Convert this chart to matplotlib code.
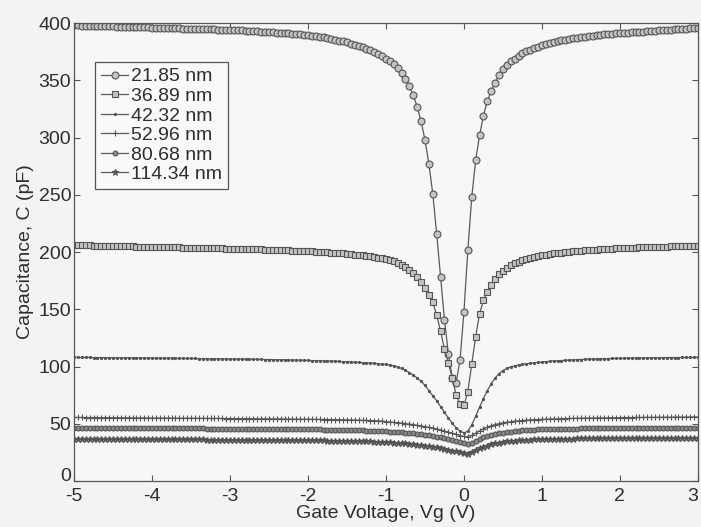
import numpy as np
import matplotlib
matplotlib.use("Agg")
import matplotlib.pyplot as plt

# gate voltage sweep, -5 V to 3 V in 50 mV steps
vg = np.round(np.arange(-5.0, 3.0001, 0.05), 2)

thickness = ["21.85 nm", "36.89 nm", "42.32 nm", "52.96 nm", "80.68 nm", "114.34 nm"]

# capacitance (pF), one row per volt of sweep
c_2185 = [
    398.0, 397.9, 397.8, 397.7, 397.6, 397.5, 397.4, 397.3, 397.2, 397.1, 397.0, 396.9, 396.8, 396.7, 396.6, 396.5, 396.4, 396.3, 396.2, 396.1,
    396.0, 395.9, 395.8, 395.7, 395.6, 395.5, 395.4, 395.3, 395.2, 395.1, 395.0, 394.9, 394.8, 394.7, 394.6, 394.5, 394.4, 394.3, 394.2, 394.1,
    394.0, 393.8, 393.6, 393.5, 393.3, 393.1, 392.9, 392.7, 392.5, 392.3, 392.1, 391.9, 391.6, 391.4, 391.1, 390.9, 390.6, 390.3, 390.0, 389.7,
    389.4, 389.0, 388.6, 388.1, 387.6, 387.0, 386.3, 385.5, 384.7, 383.9, 383.0, 382.0, 381.0, 379.9, 378.8, 377.6, 376.2, 374.7, 373.0, 371.1,
    369.0, 366.5, 364.0, 360.5, 356.5, 351.5, 345.0, 337.0, 327.0, 314.0, 298.0, 277.0, 251.0, 216.0, 178.0, 141.0, 111.0, 90.0, 86.0, 106.0,
    148.0, 202.0, 248.0, 280.0, 302.0, 319.0, 332.0, 341.0, 348.0, 354.5, 360.0, 363.5, 366.5, 369.0, 371.5, 373.5, 375.3, 376.8, 378.2, 379.4,
    380.5, 381.6, 382.6, 383.5, 384.3, 385.0, 385.6, 386.2, 386.7, 387.2, 387.7, 388.1, 388.5, 388.9, 389.3, 389.6, 390.0, 390.3, 390.6, 390.9,
    391.2, 391.4, 391.7, 391.9, 392.2, 392.4, 392.6, 392.9, 393.1, 393.3, 393.6, 393.8, 394.0, 394.3, 394.5, 394.7, 395.0, 395.2, 395.4, 395.7,
    395.9,
]

c_3689 = [
    206.0, 205.9, 205.8, 205.8, 205.7, 205.6, 205.5, 205.5, 205.4, 205.3, 205.2, 205.2, 205.1, 205.0, 204.9, 204.9, 204.8, 204.7, 204.6, 204.6,
    204.5, 204.4, 204.3, 204.3, 204.2, 204.1, 204.0, 204.0, 203.9, 203.8, 203.7, 203.7, 203.6, 203.5, 203.4, 203.4, 203.3, 203.2, 203.1, 203.0,
    203.0, 202.9, 202.8, 202.7, 202.6, 202.5, 202.4, 202.3, 202.2, 202.1, 202.0, 201.9, 201.8, 201.7, 201.6, 201.5, 201.3, 201.2, 201.1, 200.9,
    200.8, 200.6, 200.4, 200.2, 200.0, 199.8, 199.5, 199.3, 199.0, 198.7, 198.4, 198.1, 197.7, 197.4, 197.0, 196.6, 196.1, 195.6, 195.1, 194.6,
    194.0, 193.2, 192.2, 190.8, 189.0, 187.0, 184.5, 181.5, 178.0, 174.0, 168.5, 162.5, 156.0, 145.0, 131.0, 115.0, 103.0, 90.0, 75.0, 67.0,
    66.0, 78.0, 102.0, 126.0, 146.0, 158.0, 165.5, 171.5, 176.5, 180.5, 183.8, 186.3, 188.3, 190.0, 191.5, 192.7, 193.8, 194.8, 195.6, 196.4,
    197.1, 197.7, 198.2, 198.7, 199.1, 199.5, 199.9, 200.2, 200.5, 200.8, 201.1, 201.4, 201.6, 201.9, 202.1, 202.3, 202.5, 202.7, 202.9, 203.1,
    203.3, 203.4, 203.6, 203.7, 203.9, 204.0, 204.1, 204.3, 204.4, 204.5, 204.6, 204.7, 204.8, 204.9, 205.0, 205.1, 205.2, 205.3, 205.4, 205.5,
    205.6,
]

c_4232 = [
    108.0, 108.0, 107.9, 107.9, 107.9, 107.8, 107.8, 107.8, 107.7, 107.7, 107.7, 107.6, 107.6, 107.6, 107.5, 107.5, 107.5, 107.4, 107.4, 107.4,
    107.3, 107.3, 107.3, 107.2, 107.2, 107.2, 107.1, 107.1, 107.1, 107.0, 107.0, 107.0, 106.9, 106.9, 106.8, 106.8, 106.8, 106.7, 106.7, 106.6,
    106.6, 106.5, 106.5, 106.4, 106.4, 106.3, 106.3, 106.2, 106.2, 106.1, 106.1, 106.0, 105.9, 105.9, 105.8, 105.7, 105.7, 105.6, 105.5, 105.4,
    105.3, 105.2, 105.1, 105.0, 104.9, 104.8, 104.7, 104.6, 104.4, 104.3, 104.1, 104.0, 103.8, 103.6, 103.4, 103.2, 103.0, 102.7, 102.4, 102.1,
    101.8, 101.3, 100.6, 99.6, 98.3, 96.7, 94.7, 92.5, 90.0, 87.0, 83.5, 79.0, 74.5, 70.0, 65.0, 60.0, 55.0, 50.5, 46.5, 43.5,
    42.0, 43.5, 49.0, 56.5, 64.5, 72.0, 79.0, 85.0, 90.0, 93.8, 96.5, 98.4, 99.7, 100.6, 101.3, 101.9, 102.4, 102.8, 103.2, 103.6,
    103.9, 104.2, 104.5, 104.8, 105.0, 105.2, 105.4, 105.6, 105.8, 106.0, 106.1, 106.3, 106.4, 106.5, 106.6, 106.7, 106.8, 106.9, 107.0, 107.1,
    107.1, 107.2, 107.3, 107.3, 107.4, 107.4, 107.5, 107.5, 107.6, 107.6, 107.7, 107.7, 107.7, 107.8, 107.8, 107.8, 107.9, 107.9, 107.9, 108.0,
    108.0,
]

c_5296 = [
    55.5, 55.5, 55.5, 55.4, 55.4, 55.4, 55.4, 55.3, 55.3, 55.3, 55.3, 55.2, 55.2, 55.2, 55.2, 55.1, 55.1, 55.1, 55.1, 55.0,
    55.0, 55.0, 55.0, 54.9, 54.9, 54.9, 54.9, 54.8, 54.8, 54.8, 54.8, 54.7, 54.7, 54.7, 54.7, 54.6, 54.6, 54.6, 54.6, 54.5,
    54.5, 54.5, 54.5, 54.4, 54.4, 54.4, 54.4, 54.3, 54.3, 54.3, 54.3, 54.2, 54.2, 54.2, 54.1, 54.1, 54.1, 54.0, 54.0, 53.9,
    53.9, 53.9, 53.8, 53.8, 53.7, 53.7, 53.6, 53.6, 53.5, 53.4, 53.4, 53.3, 53.2, 53.1, 53.0, 52.9, 52.8, 52.6, 52.5, 52.3,
    51.8, 51.5, 51.2, 50.9, 50.5, 50.1, 49.7, 49.2, 48.7, 48.1, 47.5, 46.8, 46.1, 45.3, 44.5, 43.6, 42.7, 41.7, 40.7, 39.7,
    38.9, 38.6, 39.8, 41.8, 43.8, 45.6, 47.1, 48.3, 49.3, 50.1, 50.8, 51.3, 51.8, 52.2, 52.5, 52.8, 53.1, 53.3, 53.5, 53.7,
    53.8, 54.0, 54.1, 54.2, 54.3, 54.4, 54.5, 54.6, 54.7, 54.7, 54.8, 54.9, 54.9, 55.0, 55.0, 55.1, 55.1, 55.2, 55.2, 55.3,
    55.3, 55.4, 55.4, 55.4, 55.5, 55.5, 55.5, 55.6, 55.6, 55.6, 55.7, 55.7, 55.7, 55.7, 55.8, 55.8, 55.8, 55.8, 55.9, 55.9,
    55.9,
]

c_8068 = [
    46.5, 46.5, 46.5, 46.5, 46.4, 46.4, 46.4, 46.4, 46.4, 46.3, 46.3, 46.3, 46.3, 46.3, 46.2, 46.2, 46.2, 46.2, 46.2, 46.1,
    46.1, 46.1, 46.1, 46.1, 46.0, 46.0, 46.0, 46.0, 46.0, 45.9, 45.9, 45.9, 45.9, 45.9, 45.8, 45.8, 45.8, 45.8, 45.8, 45.7,
    45.7, 45.7, 45.7, 45.6, 45.6, 45.6, 45.6, 45.5, 45.5, 45.5, 45.5, 45.4, 45.4, 45.4, 45.3, 45.3, 45.3, 45.2, 45.2, 45.1,
    45.1, 45.1, 45.0, 45.0, 44.9, 44.9, 44.8, 44.8, 44.7, 44.6, 44.6, 44.5, 44.4, 44.3, 44.2, 44.1, 44.0, 43.9, 43.8, 43.6,
    43.4, 43.2, 43.0, 42.8, 42.5, 42.2, 41.9, 41.6, 41.2, 40.8, 40.4, 39.9, 39.4, 38.8, 38.2, 37.5, 36.8, 36.0, 35.1, 34.1,
    33.2, 32.6, 33.4, 35.0, 36.6, 38.0, 39.2, 40.2, 41.0, 41.7, 42.3, 42.8, 43.2, 43.6, 43.9, 44.2, 44.4, 44.6, 44.8, 45.0,
    45.1, 45.2, 45.3, 45.4, 45.5, 45.6, 45.7, 45.7, 45.8, 45.8, 45.9, 45.9, 46.0, 46.0, 46.1, 46.1, 46.1, 46.2, 46.2, 46.2,
    46.3, 46.3, 46.3, 46.3, 46.4, 46.4, 46.4, 46.4, 46.4, 46.5, 46.5, 46.5, 46.5, 46.5, 46.5, 46.6, 46.6, 46.6, 46.6, 46.6,
    46.6,
]

c_11434 = [
    36.8, 36.8, 36.8, 36.8, 36.7, 36.7, 36.7, 36.7, 36.7, 36.7, 36.6, 36.6, 36.6, 36.6, 36.6, 36.6, 36.5, 36.5, 36.5, 36.5,
    36.5, 36.5, 36.4, 36.4, 36.4, 36.4, 36.4, 36.4, 36.3, 36.3, 36.3, 36.3, 36.3, 36.3, 36.2, 36.2, 36.2, 36.2, 36.2, 36.1,
    36.1, 36.1, 36.1, 36.1, 36.0, 36.0, 36.0, 36.0, 35.9, 35.9, 35.9, 35.9, 35.8, 35.8, 35.8, 35.7, 35.7, 35.7, 35.6, 35.6,
    35.6, 35.5, 35.5, 35.4, 35.4, 35.3, 35.3, 35.2, 35.2, 35.1, 35.0, 35.0, 34.9, 34.8, 34.7, 34.6, 34.5, 34.4, 34.3, 34.1,
    34.0, 33.8, 33.6, 33.4, 33.1, 32.8, 32.5, 32.2, 31.8, 31.4, 31.0, 30.5, 30.0, 29.4, 28.8, 28.1, 27.4, 26.6, 25.8, 24.9,
    24.2, 24.0, 25.2, 26.8, 28.4, 29.8, 31.0, 32.0, 32.8, 33.5, 34.0, 34.5, 34.9, 35.2, 35.5, 35.8, 36.0, 36.2, 36.3, 36.5,
    36.6, 36.7, 36.8, 36.8, 36.9, 37.0, 37.0, 37.1, 37.1, 37.2, 37.2, 37.2, 37.3, 37.3, 37.3, 37.4, 37.4, 37.4, 37.4, 37.5,
    37.5, 37.5, 37.5, 37.5, 37.6, 37.6, 37.6, 37.6, 37.6, 37.6, 37.7, 37.7, 37.7, 37.7, 37.7, 37.7, 37.7, 37.8, 37.8, 37.8,
    37.8,
]

curves = [c_2185, c_3689, c_4232, c_5296, c_8068, c_11434]
markers = ["o", "s", ".", "+", "o", "*"]
msizes = [5, 5, 3, 5, 3.5, 5]
faces = ["#c4c4c4", "#c4c4c4", "#505050", "#505050", "#8a8a8a", "#505050"]

plt.rcParams["font.family"] = ["Liberation Sans", "DejaVu Sans"]
plt.rcParams["font.size"] = 14
plt.rcParams["axes.unicode_minus"] = False
ink = "#2e2e2e"
plt.rcParams["text.color"] = ink
plt.rcParams["axes.labelcolor"] = ink
plt.rcParams["xtick.color"] = "#555555"
plt.rcParams["ytick.color"] = "#555555"
plt.rcParams["xtick.labelcolor"] = ink
plt.rcParams["ytick.labelcolor"] = ink

fig = plt.figure(figsize=(7.01, 5.27), dpi=100, facecolor="#f3f3f3")
ax = fig.add_axes([0.1056, 0.0873, 0.890, 0.869], facecolor="#f7f7f7")

for c, lab, m, ms, fc in zip(curves, thickness, markers, msizes, faces):
    ax.plot(vg, c, color="#5a5a5a", lw=0.9, marker=m, ms=ms,
            mfc=fc, mec="#555555", mew=0.8, label=lab)

ax.set_xlim(-5, 3)
ax.set_ylim(0, 400)
ax.set_xticks(np.arange(-5, 4, 1))
ax.set_yticks(np.arange(0, 401, 50))
ax.tick_params(direction="in", top=True, right=True, length=4, width=0.8)
ax.tick_params(axis="x", pad=5)
ax.tick_params(axis="y", pad=2)
for s in ax.spines.values():
    s.set_color("#555555")
    s.set_linewidth(0.9)

# keep the last x label inside the figure edge, and lift the y "0"
# so it clears the "-5" under the corner
ax.get_xticklabels()[-1].set_horizontalalignment("right")
ax.get_yticklabels()[0].set_verticalalignment("baseline")

ax.set_xlabel("Gate Voltage, Vg (V)", labelpad=0)
ax.set_ylabel("Capacitance, C (pF)", labelpad=3)

leg = ax.legend(loc="upper left", bbox_to_anchor=(0.034, 0.915),
                borderaxespad=0, fancybox=False, framealpha=1,
                labelspacing=0.1, handlelength=1.4, handletextpad=0.15,
                borderpad=0.3)
leg.get_frame().set_edgecolor("#555555")
leg.get_frame().set_facecolor("#f9f9f9")
leg.get_frame().set_linewidth(0.9)

fig.savefig("out.png", dpi=100, facecolor=fig.get_facecolor())
